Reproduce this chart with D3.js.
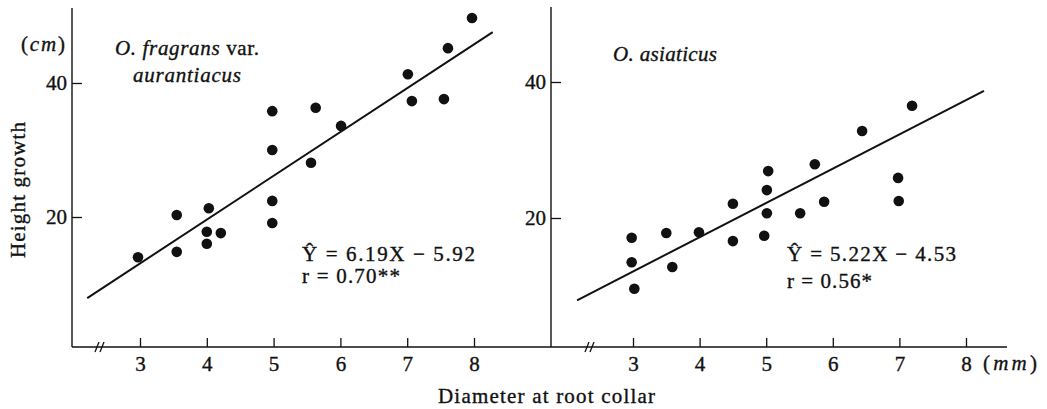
<!DOCTYPE html>
<html>
<head>
<meta charset="utf-8">
<script src="https://cdn.jsdelivr.net/npm/d3@7"></script>
<style>
  html, body { margin: 0; padding: 0; background: #fff; }
  svg { display: block; }
  text { font-family: "Liberation Serif", "Times New Roman", serif; fill: #111; stroke: #111; stroke-width: 0.35px; }
  .tick line { stroke: #111; stroke-width: 1.3; }
  .tick text { font-size: 21px; fill: #111; font-family: "Liberation Serif", serif; }
</style>
</head>
<body>
<svg id="chart" width="1047" height="409"></svg>
<script>
// ---------------- data ----------------
const xTickValues = [3, 4, 5, 6, 7, 8];
const yTickValues = [20, 40];

// O. fragrans var. aurantiacus : diameter (mm) vs height growth (cm)
const leftX = [2.97, 3.55, 3.55, 4.03, 4.00, 4.00, 4.21, 4.98, 4.98, 4.98, 4.98, 5.63, 5.56, 6.01, 7.01, 7.07, 7.55, 7.61, 7.97];
const leftY = [14.0, 20.3, 14.8, 21.3, 17.8, 16.0, 17.6, 22.4, 19.1, 35.8, 30.0, 36.3, 28.1, 33.6, 41.3, 37.3, 37.6, 45.2, 49.7];
// fitted line as drawn (endpoints)
const leftLineX = [2.21, 8.28];
const leftLineY = [7.9, 47.6];

// O. asiaticus
const rightX = [2.98, 2.98, 3.02, 3.50, 3.59, 3.99, 4.50, 4.50, 4.97, 5.01, 5.01, 5.03, 5.51, 5.73, 5.87, 6.44, 6.98, 6.99, 7.19];
const rightY = [17.1, 13.5, 9.6, 17.8, 12.8, 17.9, 22.1, 16.6, 17.4, 20.7, 24.1, 26.9, 20.7, 27.9, 22.4, 32.8, 25.9, 22.5, 36.5];
const rightLineX = [2.16, 8.27];
const rightLineY = [7.9, 38.7];

const leftEquation = ["Ŷ = 6.19X − 5.92", "r = 0.70**"];
const rightEquation = ["Ŷ = 5.22X − 4.53", "r = 0.56*"];

// ---------------- layout ----------------
const svg = d3.select("#chart");
const ink = "#111";

const panels = [
  {
    xs: leftX, ys: leftY, lx: leftLineX, ly: leftLineY, eq: leftEquation,
    x: d3.scaleLinear().domain([3, 8]).range([140, 474]),
    y: d3.scaleLinear().domain([20, 40]).range([217, 83]),
    axisX: 72, axisTop: 8, axisBottom: 347, axisRight: 551, breakX: 98,
    eqX: 302, eqY: [261, 283], eqW: [173, 98]
  },
  {
    xs: rightX, ys: rightY, lx: rightLineX, ly: rightLineY, eq: rightEquation,
    x: d3.scaleLinear().domain([3, 8]).range([633, 966]),
    y: d3.scaleLinear().domain([20, 40]).range([218, 82]),
    axisX: 551, axisTop: 7, axisBottom: 347, axisRight: 1007, breakX: 588,
    eqX: 787, eqY: [261, 288], eqW: [169, 85]
  }
];

panels.forEach(p => {
  const g = svg.append("g");

  // axis lines
  g.append("line").attr("x1", p.axisX).attr("x2", p.axisX)
    .attr("y1", p.axisTop).attr("y2", p.axisBottom)
    .attr("stroke", ink).attr("stroke-width", 1.4);
  g.append("line").attr("x1", p.axisX).attr("x2", p.axisRight)
    .attr("y1", p.axisBottom).attr("y2", p.axisBottom)
    .attr("stroke", ink).attr("stroke-width", 1.4);

  // x axis ticks (inward)
  g.append("g")
    .attr("transform", `translate(0,${p.axisBottom})`)
    .call(d3.axisBottom(p.x).tickValues(xTickValues).tickSize(-9).tickPadding(9).tickFormat(d3.format("d")))
    .call(a => a.select(".domain").remove());

  // y axis ticks (inward)
  g.append("g")
    .attr("transform", `translate(${p.axisX},0)`)
    .call(d3.axisLeft(p.y).tickValues(yTickValues).tickSize(-10).tickPadding(5).tickFormat(d3.format("d")))
    .call(a => a.select(".domain").remove());

  // axis break marks
  [0, 5].forEach(off => {
    g.append("line")
      .attr("x1", p.breakX + off - 3).attr("y1", p.axisBottom + 5)
      .attr("x2", p.breakX + off + 1).attr("y2", p.axisBottom - 5)
      .attr("stroke", ink).attr("stroke-width", 1.3);
  });

  // regression line
  const linePts = p.lx.map((v, i) => [v, p.ly[i]]);
  g.append("path")
    .attr("d", d3.line().x(d => p.x(d[0])).y(d => p.y(d[1]))(linePts))
    .attr("fill", "none").attr("stroke", ink).attr("stroke-width", 2);

  // points
  g.selectAll("circle.pt").data(p.xs.map((v, i) => [v, p.ys[i]]))
    .join("circle").attr("class", "pt")
    .attr("cx", d => p.x(d[0])).attr("cy", d => p.y(d[1]))
    .attr("r", 5.3).attr("fill", ink);

  // equation
  p.eq.forEach((t, i) => {
    g.append("text").attr("x", p.eqX).attr("y", p.eqY[i])
      .attr("font-size", 21).attr("textLength", p.eqW[i]).attr("lengthAdjust", "spacing")
      .text(t);
  });
});

// species labels
const t1 = svg.append("text").attr("x", 115).attr("y", 55).attr("font-size", 21)
  .attr("textLength", 144).attr("lengthAdjust", "spacing");
t1.append("tspan").attr("font-style", "italic").text("O. fragrans");
t1.append("tspan").text(" var.");
svg.append("text").attr("x", 133).attr("y", 82).attr("font-size", 21).attr("font-style", "italic")
  .attr("textLength", 108).attr("lengthAdjust", "spacing").text("aurantiacus");
svg.append("text").attr("x", 613).attr("y", 61).attr("font-size", 21).attr("font-style", "italic")
  .attr("textLength", 104).attr("lengthAdjust", "spacing").text("O. asiaticus");

// unit labels
const cm = svg.append("text").attr("x", 21).attr("y", 51).attr("font-size", 21)
  .attr("textLength", 44).attr("lengthAdjust", "spacing");
cm.append("tspan").text("(");
cm.append("tspan").attr("font-style", "italic").text("cm");
cm.append("tspan").text(")");
const mm = svg.append("text").attr("x", 983).attr("y", 370).attr("font-size", 21)
  .attr("textLength", 54).attr("lengthAdjust", "spacing");
mm.append("tspan").text("(");
mm.append("tspan").attr("font-style", "italic").text("mm");
mm.append("tspan").text(")");

// axis titles
svg.append("text").attr("x", 438).attr("y", 403).attr("font-size", 21)
  .attr("textLength", 217).attr("lengthAdjust", "spacing").text("Diameter at root collar");
svg.append("text").attr("transform", "translate(25,190) rotate(-90)")
  .attr("text-anchor", "middle").attr("font-size", 21)
  .attr("textLength", 136).attr("lengthAdjust", "spacing").text("Height growth");
</script>
</body>
</html>
